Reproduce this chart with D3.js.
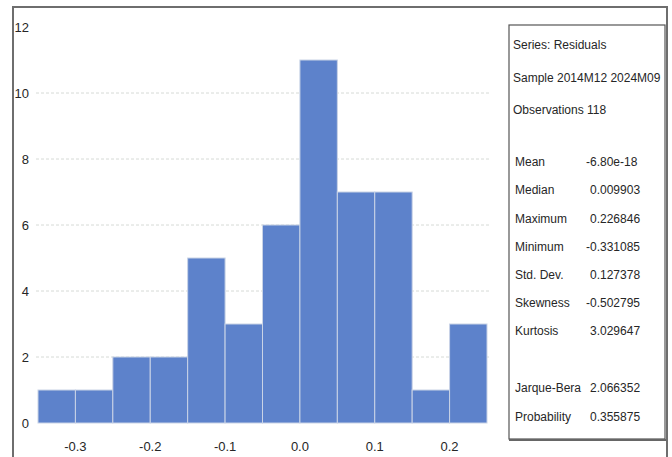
<!DOCTYPE html>
<html>
<head>
<meta charset="utf-8">
<script src="https://cdn.jsdelivr.net/npm/d3@7"></script>
<style>
  body { margin: 0; background: #fff; }
  svg text { font-family: "Liberation Sans", Arial, sans-serif; fill: #262626; }
</style>
</head>
<body>
<svg id="chart" width="672" height="457"></svg>
<script>
// histogram of residuals
const binStarts = [-0.35, -0.30, -0.25, -0.20, -0.15, -0.10, -0.05, 0.00, 0.05, 0.10, 0.15, 0.20];
const binWidth = 0.05;
const counts = [1, 1, 2, 2, 5, 3, 6, 11, 7, 7, 1, 3];

const xTicks = [-0.3, -0.2, -0.1, 0.0, 0.1, 0.2];
const xTickLabels = ["-0.3", "-0.2", "-0.1", "0.0", "0.1", "0.2"];
const yTicks = [0, 2, 4, 6, 8, 10, 12];
const gridTicks = [2, 4, 6, 8, 10];

const headerLines = ["Series: Residuals", "Sample 2014M12 2024M09", "Observations 118"];
const statNames = ["Mean", "Median", "Maximum", "Minimum", "Std. Dev.", "Skewness", "Kurtosis"];
const statValues = ["-6.80e-18", "0.009903", "0.226846", "-0.331085", "0.127378", "-0.502795", "3.029647"];
const testNames = ["Jarque-Bera", "Probability"];
const testValues = ["2.066352", "0.355875"];

const svg = d3.select("#chart");

const x = d3.scaleLinear().domain([-0.35, 0.25]).range([38, 487]);
const y = d3.scaleLinear().domain([0, 12]).range([423, 27]);

// outer frame
svg.append("rect")
    .attr("x", 13).attr("y", 7)
    .attr("width", 654).attr("height", 470)
    .attr("fill", "none")
    .attr("stroke", "#6e6e6e")
    .attr("stroke-width", 2);

// gridlines
svg.append("g").selectAll("line")
    .data(gridTicks)
    .enter().append("line")
    .attr("x1", 36).attr("x2", 491)
    .attr("y1", d => y(d)).attr("y2", d => y(d))
    .attr("stroke", "#d6dad6")
    .attr("stroke-dasharray", "3,2");

// bars
svg.append("g").selectAll("rect")
    .data(counts)
    .enter().append("rect")
    .attr("x", (d, i) => x(binStarts[i]))
    .attr("y", d => y(d))
    .attr("width", (d, i) => x(binStarts[i] + binWidth) - x(binStarts[i]))
    .attr("height", d => y(0) - y(d))
    .attr("fill", "#5d82cb")
    .attr("stroke", "#c9d3e6")
    .attr("stroke-width", 1);

// y tick labels
svg.append("g").selectAll("text")
    .data(yTicks)
    .enter().append("text")
    .attr("x", 29)
    .attr("y", d => y(d))
    .attr("dy", "0.35em")
    .attr("text-anchor", "end")
    .style("font-size", "13px")
    .text(d => d);

// x tick labels
svg.append("g").selectAll("text")
    .data(xTicks)
    .enter().append("text")
    .attr("x", d => x(d))
    .attr("y", 446)
    .attr("dy", "0.35em")
    .attr("text-anchor", "middle")
    .style("font-size", "13px")
    .text((d, i) => xTickLabels[i]);

// stats box
const box = svg.append("g");
box.append("rect")
    .attr("x", 509).attr("y", 25)
    .attr("width", 156).attr("height", 414)
    .attr("fill", "#fff")
    .attr("stroke", "#555")
    .attr("stroke-width", 1.2);
box.append("line")
    .attr("x1", 509).attr("x2", 666)
    .attr("y1", 440).attr("y2", 440)
    .attr("stroke", "#666").attr("stroke-width", 2);

box.selectAll("text.head")
    .data(headerLines)
    .enter().append("text")
    .attr("class", "head")
    .attr("x", 513)
    .attr("y", (d, i) => 45 + i * 32.5)
    .attr("dy", "0.35em")
    .style("font-size", "12px")
    .text(d => d);

const statY = i => 162 + i * 28.2;
box.selectAll("text.sname")
    .data(statNames)
    .enter().append("text")
    .attr("class", "sname")
    .attr("x", 515)
    .attr("y", (d, i) => statY(i))
    .attr("dy", "0.35em")
    .style("font-size", "12px")
    .text(d => d);
box.selectAll("text.sval")
    .data(statValues)
    .enter().append("text")
    .attr("class", "sval")
    .attr("x", d => d.startsWith("-") ? 586 : 590)
    .attr("y", (d, i) => statY(i))
    .attr("dy", "0.35em")
    .style("font-size", "12px")
    .text(d => d);

const testY = i => 388 + i * 28.5;
box.selectAll("text.tname")
    .data(testNames)
    .enter().append("text")
    .attr("class", "tname")
    .attr("x", 515)
    .attr("y", (d, i) => testY(i))
    .attr("dy", "0.35em")
    .style("font-size", "12px")
    .text(d => d);
box.selectAll("text.tval")
    .data(testValues)
    .enter().append("text")
    .attr("class", "tval")
    .attr("x", 590)
    .attr("y", (d, i) => testY(i))
    .attr("dy", "0.35em")
    .style("font-size", "12px")
    .text(d => d);
</script>
</body>
</html>
